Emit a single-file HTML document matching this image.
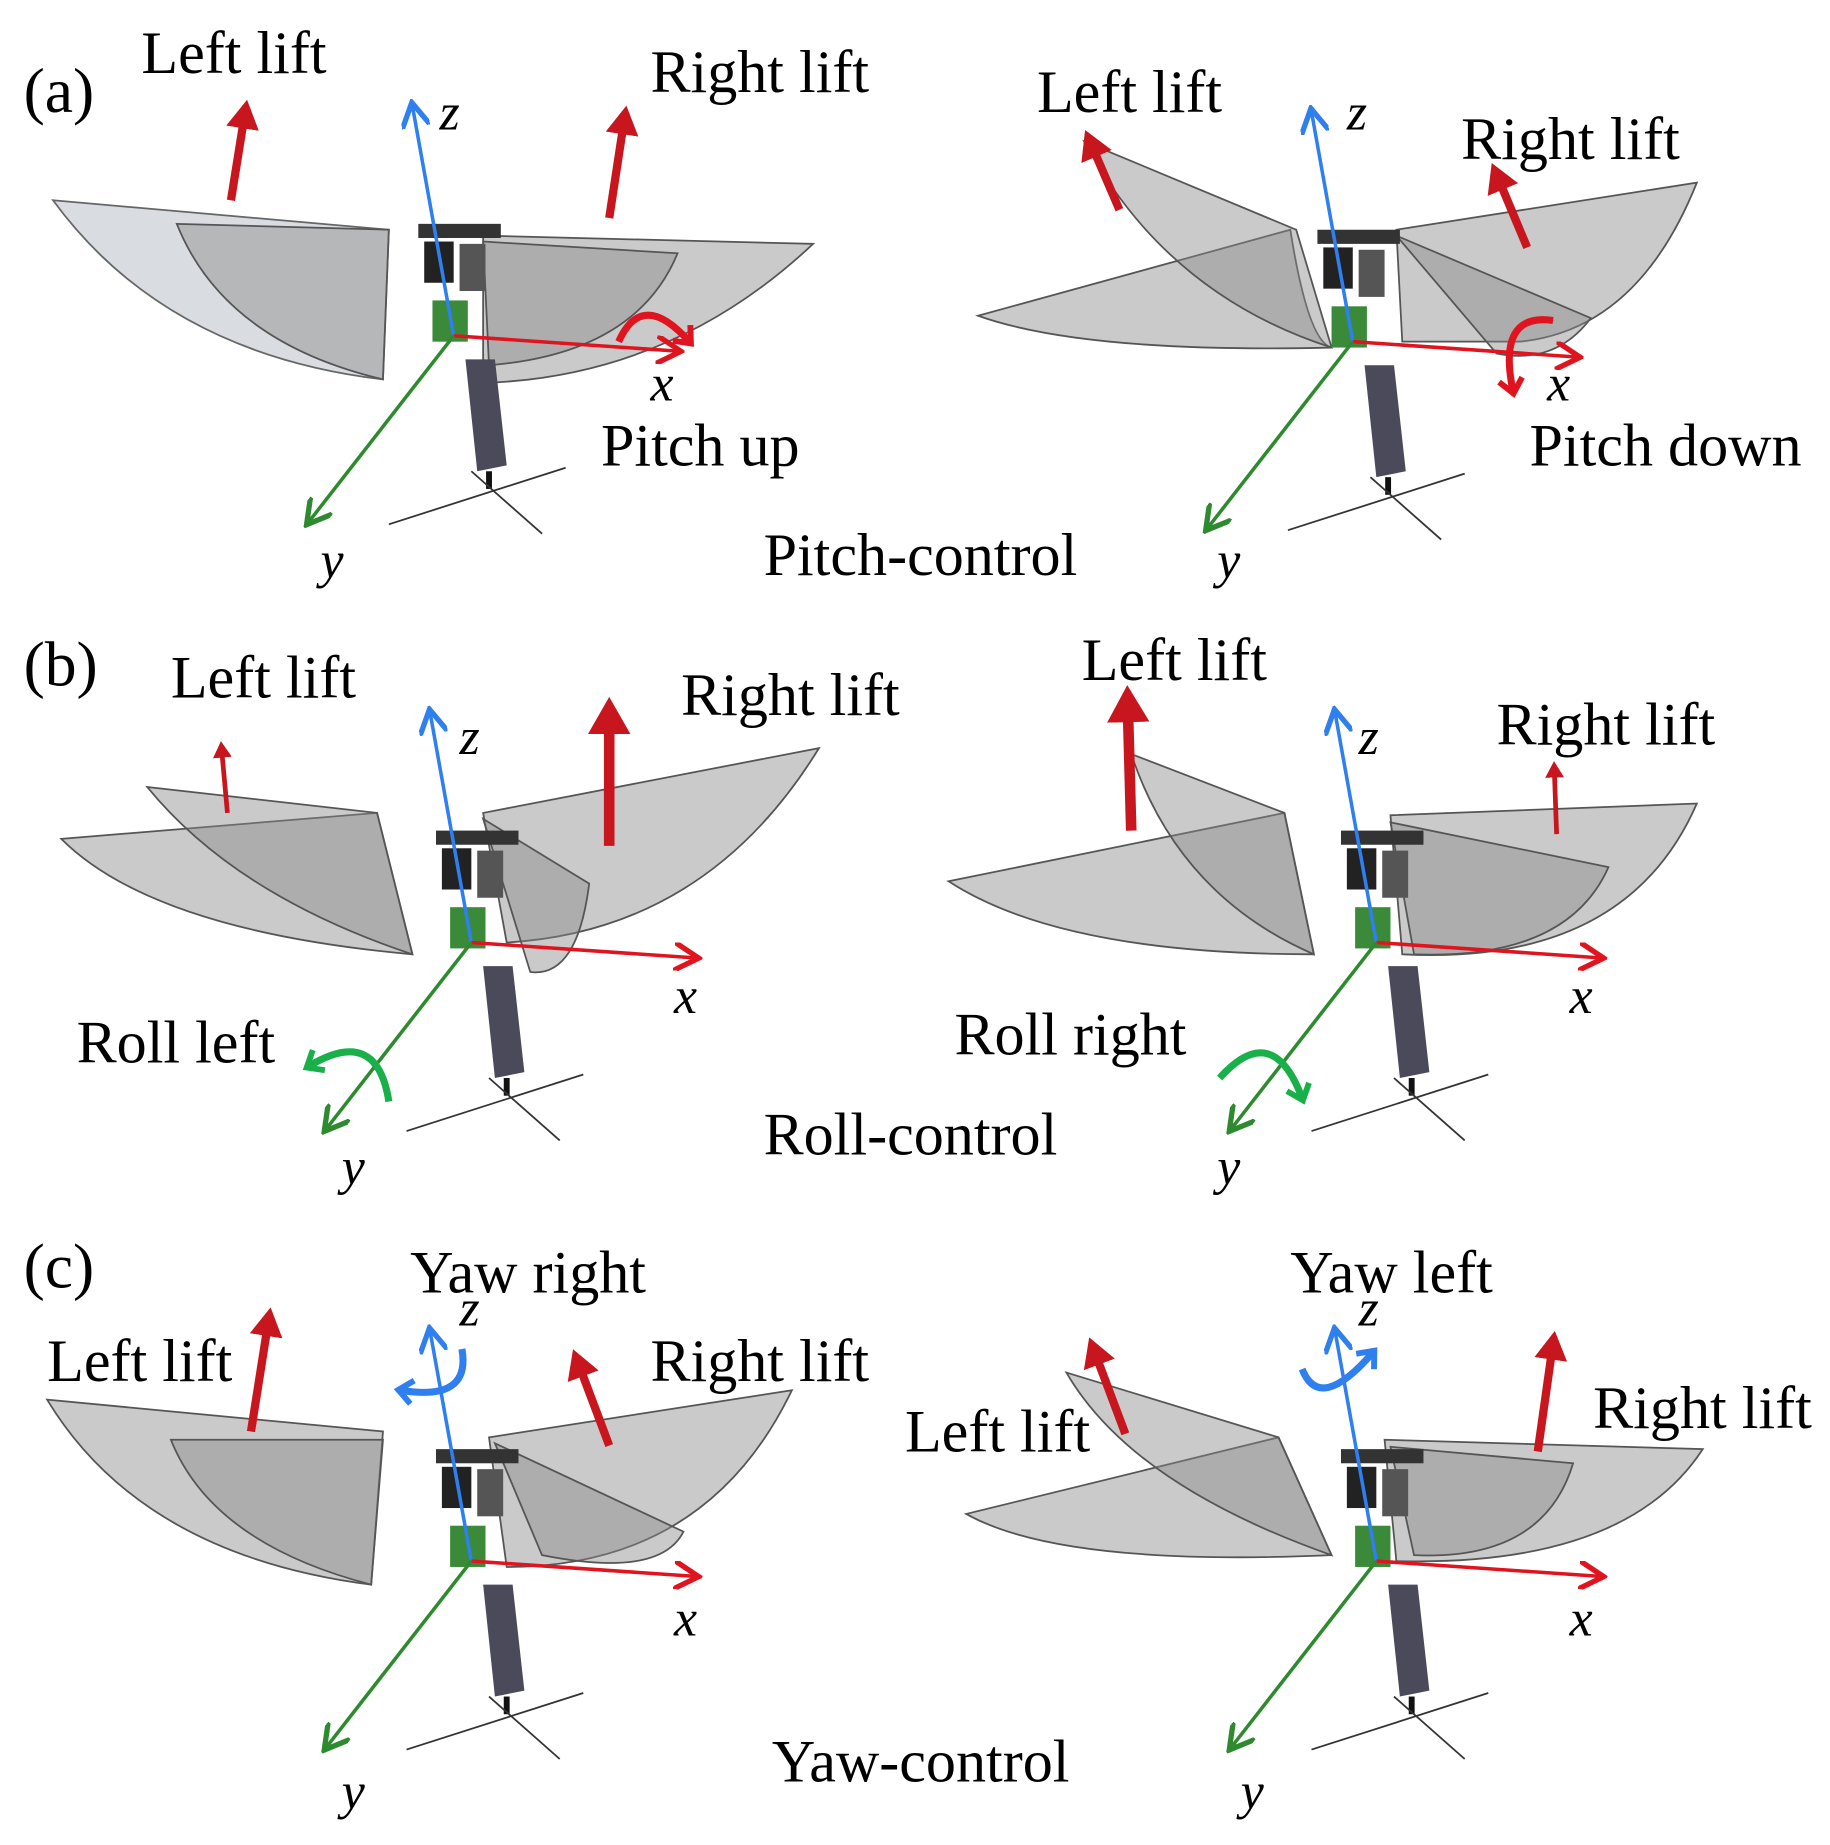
<!DOCTYPE html>
<html><head><meta charset="utf-8">
<style>
html,body{margin:0;padding:0;background:#fff;}
svg{display:block;}
text{font-family:"Liberation Serif",serif;fill:#000;}
.lbl{font-size:51px;}
.pl{font-size:54px;}
.ax{font-size:44px;font-style:italic;}
.w{fill:#8a8a8a;fill-opacity:.45;stroke:#555;stroke-width:1.5;}
.wl{fill:#c9ced4;fill-opacity:.7;stroke:#666;stroke-width:1.5;}
</style></head><body>
<svg width="1830" height="1845" viewBox="0 0 1553 1566" preserveAspectRatio="none" xmlns="http://www.w3.org/2000/svg">
<defs>
<marker id="ar" markerWidth="8" markerHeight="8" refX="6" refY="4" orient="auto" markerUnits="strokeWidth"><path d="M0,0 L7,4 L0,8" fill="none" stroke="#e0141e" stroke-width="1.5"/></marker>
<marker id="ab" markerWidth="8" markerHeight="8" refX="6" refY="4" orient="auto" markerUnits="strokeWidth"><path d="M0,0 L7,4 L0,8" fill="none" stroke="#2f7fef" stroke-width="1.5"/></marker>
<marker id="ag" markerWidth="8" markerHeight="8" refX="6" refY="4" orient="auto" markerUnits="strokeWidth"><path d="M0,0 L7,4 L0,8" fill="none" stroke="#2e8a2e" stroke-width="1.5"/></marker>
<marker id="cr" markerWidth="24" markerHeight="24" refX="12" refY="12" orient="auto" markerUnits="userSpaceOnUse"><path d="M2,2 L14,12 L2,22" fill="none" stroke="#e0141e" stroke-width="5"/></marker>
<marker id="cg" markerWidth="24" markerHeight="24" refX="12" refY="12" orient="auto" markerUnits="userSpaceOnUse"><path d="M2,2 L14,12 L2,22" fill="none" stroke="#19b04a" stroke-width="5"/></marker>
<marker id="cb" markerWidth="24" markerHeight="24" refX="12" refY="12" orient="auto" markerUnits="userSpaceOnUse"><path d="M2,2 L14,12 L2,22" fill="none" stroke="#2f7fef" stroke-width="5"/></marker>
<marker id="lift" markerWidth="4" markerHeight="4" refX="2" refY="2" orient="auto"><path d="M0,0 L3.5,2 L0,4 Z" fill="#c8161e"/></marker>
<g id="bot">
  <rect x="-30" y="-95" width="70" height="12" fill="#333"/>
  <rect x="-25" y="-80" width="25" height="35" fill="#222"/>
  <rect x="5" y="-78" width="22" height="40" fill="#555"/>
  <rect x="-18" y="-30" width="30" height="35" fill="#3a8a3a"/>
  <polygon points="10,20 35,20 45,110 20,115" fill="#4a4a5a"/>
  <line x1="30" y1="115" x2="30" y2="130" stroke="#111" stroke-width="5"/>
  <line x1="-55" y1="160" x2="95" y2="112" stroke="#333" stroke-width="1.5"/>
  <line x1="15" y1="115" x2="75" y2="168" stroke="#333" stroke-width="1.5"/>
  <line x1="0" y1="0" x2="-35" y2="-195" stroke="#2f7fef" stroke-width="3" marker-end="url(#ab)"/>
  <line x1="0" y1="0" x2="190" y2="13" stroke="#e0141e" stroke-width="3" marker-end="url(#ar)"/>
  <line x1="0" y1="0" x2="-123" y2="158" stroke="#2e8a2e" stroke-width="3" marker-end="url(#ag)"/>
</g>
</defs>

<!-- (a) left -->
<text class="pl" x="20" y="95">(a)</text>
<path class="wl" d="M45,170 L330,195 L325,322 Q140,300 45,170Z"/>
<path class="w" d="M150,190 L330,195 L325,322 Q190,290 150,190Z"/>
<path class="w" d="M410,200 L690,207 Q570,320 410,325Z"/>
<path class="w" d="M410,205 L575,215 Q540,300 415,310Z"/>
<use href="#bot" x="385" y="285"/>
<line x1="196" y1="170" x2="208" y2="95" stroke="#c8161e" stroke-width="7" marker-end="url(#lift)"/>
<line x1="517" y1="185" x2="530" y2="100" stroke="#c8161e" stroke-width="7" marker-end="url(#lift)"/>
<path d="M525,290 Q545,245 585,290" fill="none" stroke="#e0141e" stroke-width="6" marker-end="url(#cr)"/>
<text class="lbl" x="120" y="62">Left lift</text>
<text class="lbl" x="552" y="78">Right lift</text>
<text class="ax" x="373" y="110">z</text>
<text class="ax" x="552" y="340">x</text>
<text class="ax" x="272" y="490">y</text>
<text class="lbl" x="510" y="395">Pitch up</text>
<text class="lbl" x="648" y="488">Pitch-control</text>

<!-- (a) right -->
<path class="w" d="M830,268 L1095,195 Q1110,290 1130,295 Q920,300 830,268Z"/>
<path class="w" d="M920,120 L1100,195 L1130,295 Q990,250 920,120Z"/>
<path class="w" d="M1185,195 L1440,155 Q1390,280 1290,290 L1190,290Z"/>
<path class="w" d="M1185,200 L1350,270 Q1320,310 1270,300Z"/>
<use href="#bot" x="1148" y="290"/>
<line x1="950" y1="178" x2="925" y2="120" stroke="#c8161e" stroke-width="7" marker-end="url(#lift)"/>
<line x1="1296" y1="210" x2="1270" y2="148" stroke="#c8161e" stroke-width="7" marker-end="url(#lift)"/>
<path d="M1318,272 Q1270,265 1284,332" fill="none" stroke="#e0141e" stroke-width="6" marker-end="url(#cr)"/>
<text class="lbl" x="880" y="95">Left lift</text>
<text class="lbl" x="1240" y="135">Right lift</text>
<text class="ax" x="1143" y="110">z</text>
<text class="ax" x="1313" y="340">x</text>
<text class="ax" x="1033" y="490">y</text>
<text class="lbl" x="1298" y="395">Pitch down</text>

<!-- (b) left -->
<text class="pl" x="20" y="582">(b)</text>
<path class="w" d="M52,712 L320,690 L350,810 Q130,790 52,712Z"/>
<path class="w" d="M125,668 L320,690 L350,810 Q200,760 125,668Z"/>
<path class="w" d="M410,690 L695,635 Q600,790 430,800Z"/>
<path class="w" d="M410,695 L500,750 Q490,830 450,825Z"/>
<use href="#bot" x="400" y="800"/>
<line x1="193" y1="690" x2="188" y2="635" stroke="#c8161e" stroke-width="4" marker-end="url(#lift)"/>
<line x1="517" y1="718" x2="517" y2="605" stroke="#c8161e" stroke-width="9" marker-end="url(#lift)"/>
<path d="M330,935 Q320,870 262,905" fill="none" stroke="#19b04a" stroke-width="6" marker-end="url(#cg)"/>
<text class="lbl" x="145" y="592">Left lift</text>
<text class="lbl" x="578" y="607">Right lift</text>
<text class="ax" x="390" y="640">z</text>
<text class="ax" x="572" y="860">x</text>
<text class="ax" x="290" y="1005">y</text>
<text class="lbl" x="65" y="902">Roll left</text>
<text class="lbl" x="648" y="980">Roll-control</text>

<!-- (b) right -->
<path class="w" d="M805,748 L1090,690 L1115,810 Q900,810 805,748Z"/>
<path class="w" d="M960,640 L1090,690 L1115,810 Q1000,760 960,640Z"/>
<path class="w" d="M1180,692 L1440,682 Q1380,820 1190,810Z"/>
<path class="w" d="M1180,698 L1365,736 Q1330,815 1200,810Z"/>
<use href="#bot" x="1168" y="800"/>
<line x1="960" y1="705" x2="957" y2="595" stroke="#c8161e" stroke-width="9" marker-end="url(#lift)"/>
<line x1="1321" y1="708" x2="1319" y2="652" stroke="#c8161e" stroke-width="4" marker-end="url(#lift)"/>
<path d="M1035,915 Q1080,865 1105,932" fill="none" stroke="#19b04a" stroke-width="6" marker-end="url(#cg)"/>
<text class="lbl" x="918" y="577">Left lift</text>
<text class="lbl" x="1270" y="632">Right lift</text>
<text class="ax" x="1153" y="640">z</text>
<text class="ax" x="1332" y="860">x</text>
<text class="ax" x="1033" y="1005">y</text>
<text class="lbl" x="810" y="895">Roll right</text>

<!-- (c) left -->
<text class="pl" x="20" y="1093">(c)</text>
<path class="w" d="M40,1188 L325,1215 L315,1345 Q120,1320 40,1188Z"/>
<path class="w" d="M145,1222 L325,1222 L315,1345 Q180,1310 145,1222Z"/>
<path class="w" d="M415,1220 L672,1180 Q600,1330 430,1330Z"/>
<path class="w" d="M420,1225 L580,1300 Q560,1340 460,1320Z"/>
<use href="#bot" x="400" y="1325"/>
<line x1="213" y1="1215" x2="228" y2="1120" stroke="#c8161e" stroke-width="7" marker-end="url(#lift)"/>
<line x1="517" y1="1227" x2="490" y2="1155" stroke="#c8161e" stroke-width="7" marker-end="url(#lift)"/>
<path d="M392,1145 Q400,1190 340,1180" fill="none" stroke="#2f7fef" stroke-width="6" marker-end="url(#cb)"/>
<text class="lbl" x="40" y="1172">Left lift</text>
<text class="lbl" x="552" y="1172">Right lift</text>
<text class="lbl" x="348" y="1097">Yaw right</text>
<text class="ax" x="390" y="1125">z</text>
<text class="ax" x="572" y="1388">x</text>
<text class="ax" x="290" y="1535">y</text>
<text class="lbl" x="655" y="1512">Yaw-control</text>

<!-- (c) right -->
<path class="w" d="M820,1285 L1085,1220 L1130,1320 Q900,1330 820,1285Z"/>
<path class="w" d="M905,1165 L1085,1220 L1130,1320 Q960,1260 905,1165Z"/>
<path class="w" d="M1175,1222 L1445,1230 Q1380,1330 1185,1325Z"/>
<path class="w" d="M1180,1228 L1335,1242 Q1310,1325 1200,1320Z"/>
<use href="#bot" x="1168" y="1325"/>
<line x1="955" y1="1217" x2="928" y2="1145" stroke="#c8161e" stroke-width="7" marker-end="url(#lift)"/>
<line x1="1305" y1="1232" x2="1318" y2="1140" stroke="#c8161e" stroke-width="7" marker-end="url(#lift)"/>
<path d="M1105,1162 Q1120,1200 1165,1148" fill="none" stroke="#2f7fef" stroke-width="6" marker-end="url(#cb)"/>
<text class="lbl" x="1095" y="1097">Yaw left</text>
<text class="lbl" x="768" y="1232">Left lift</text>
<text class="lbl" x="1352" y="1212">Right lift</text>
<text class="ax" x="1153" y="1125">z</text>
<text class="ax" x="1332" y="1388">x</text>
<text class="ax" x="1053" y="1535">y</text>
</svg>
</body></html>
